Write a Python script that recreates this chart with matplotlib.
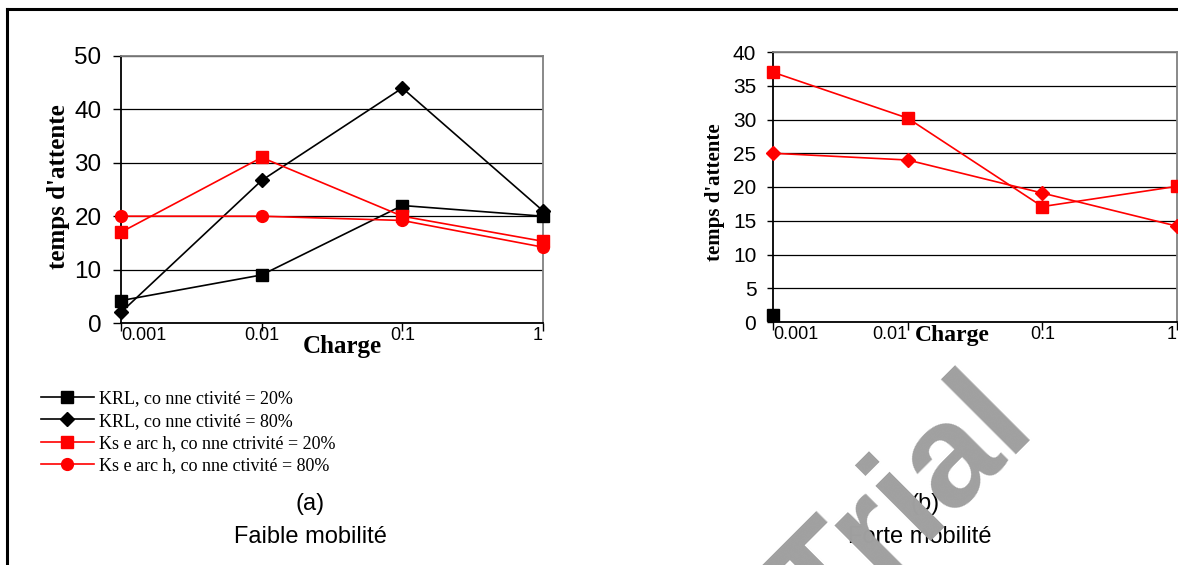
import matplotlib
matplotlib.use("Agg")
import matplotlib.pyplot as plt
from matplotlib.lines import Line2D

# ---- data ----
charges = ["0.001", "0.01", "0.1", "1"]

# (a) Faible mobilité
krl20_a = [4.2, 9.0, 22.0, 20.0]
krl80_a = [2.0, 26.7, 44.0, 21.0]
ks20_a = [17.0, 31.0, 20.0, 15.3]
ks80_a = [20.0, 20.0, 19.2, 14.2]

# (b) Forte mobilité
krl20_b = [1.0]
ks20_b = [37.0, 30.2, 17.1, 20.1]
ks80_b = [25.0, 24.0, 19.1, 14.2]

legend_labels = ["KRL, co nne ctivité = 20%", "KRL, co nne ctivité = 80%",
                 "Ks e arc h, co nne ctrivité = 20%", "Ks e arc h, co nne ctivité = 80%"]

SERIF = ["Liberation Serif", "DejaVu Serif"]
SANS = ["Liberation Sans", "DejaVu Sans"]

fig = plt.figure(figsize=(11.78, 5.65), dpi=100)
fig.patch.set_facecolor("white")

# outer frame (top and left)
fig.add_artist(Line2D([7/1178, 7/1178], [0, 1 - 9/565], transform=fig.transFigure, color="black", lw=2.2))
fig.add_artist(Line2D([7/1178, 1], [1 - 9/565, 1 - 9/565], transform=fig.transFigure, color="black", lw=2.2))


def style_axes(ax, ymax, ystep, yfs, xfs, aligns, ytick_len):
    ax.set_xlim(0, len(charges) - 1)
    ax.set_ylim(0, ymax)
    ax.set_yticks(range(0, ymax + 1, ystep))
    ax.set_xticks(range(len(charges)))
    ax.set_xticklabels(charges, fontsize=xfs, family=SANS)
    for lbl, ha in zip(ax.get_xticklabels(), aligns):
        lbl.set_ha(ha)
    for lbl in ax.get_yticklabels():
        lbl.set_family(SANS)
        lbl.set_fontsize(yfs)
    ax.tick_params(axis="y", direction="out", length=ytick_len, width=1, pad=8)
    ax.tick_params(axis="x", direction="out", length=6, width=1, pad=-3)
    ax.yaxis.grid(True, color="black", lw=0.9)
    ax.set_axisbelow(True)
    ax.spines["left"].set_color("black")
    ax.spines["bottom"].set_color("black")
    ax.spines["top"].set_color("#808080")
    ax.spines["right"].set_color("#808080")
    for s in ax.spines.values():
        s.set_linewidth(1.3)


# ---- left chart ----
axa = fig.add_axes([121/1178, 1 - 323/565, (543 - 121)/1178, (323 - 56)/565])
x = range(len(charges))
axa.plot(x, krl20_a, color="black", lw=1.2, marker="s", ms=8.5, label=legend_labels[0], clip_on=False, zorder=3)
axa.plot(x, krl80_a, color="black", lw=1.2, marker="D", ms=7, label=legend_labels[1], clip_on=False, zorder=3)
axa.plot(x, ks20_a, color="#ff0000", lw=1.2, marker="s", ms=8.5, label=legend_labels[2], clip_on=False, zorder=3)
axa.plot(x, ks80_a, color="#ff0000", lw=1.2, marker="o", ms=8.5, label=legend_labels[3], clip_on=False, zorder=3)
style_axes(axa, 50, 10, 17.5, 13, ["left", "center", "center", "right"], 6)
axa.set_ylabel("temps d'attente", family=SERIF, fontweight="bold", fontsize=18)
axa.yaxis.set_label_coords(-0.122, 0.51)
axa.set_xlabel("Charge", family=SERIF, fontweight="bold", fontsize=18)
axa.xaxis.set_label_coords(0.525, -0.045)
axa.xaxis.label.set_va("top")

# ---- right chart ----
axb = fig.add_axes([773/1178, 1 - 322/565, (1177 - 773)/1178, (322 - 52)/565])
axb.plot(range(len(krl20_b)), krl20_b, color="black", lw=1.2, marker="s", ms=8, clip_on=False, zorder=3)
axb.plot(x, ks20_b, color="#ff0000", lw=1.2, marker="s", ms=8.5, clip_on=False, zorder=3)
axb.plot(x, ks80_b, color="#ff0000", lw=1.2, marker="D", ms=7, clip_on=False, zorder=3)
style_axes(axb, 40, 5, 15, 13, ["left", "right", "center", "right"], 4)
axb.set_ylabel("temps d'attente", family=SERIF, fontweight="bold", fontsize=15)
axb.yaxis.set_label_coords(-0.12, 0.48)
axb.set_xlabel("Charge", family=SERIF, fontweight="bold", fontsize=17)
axb.xaxis.set_label_coords(0.445, -0.01)
axb.xaxis.label.set_va("top")

# ---- legend ----
handles, labels = axa.get_legend_handles_labels()
fig.legend(handles, labels, loc="upper left", bbox_to_anchor=(34/1178, 1 - 383/565),
           frameon=False, prop={"family": SERIF, "size": 13}, handlelength=2.9,
           handletextpad=0.28, labelspacing=0.3, borderaxespad=0)

# ---- captions ----
fig.text(310/1178, 1 - 504/565, "(a)", ha="center", va="center", fontsize=17, family=SANS)
fig.text(310/1178, 1 - 537/565, "Faible mobilité", ha="center", va="center", fontsize=17, family=SANS)
fig.text(925/1178, 1 - 504/565, "(b)", ha="center", va="center", fontsize=17, family=SANS)
fig.text(920/1178, 1 - 537/565, "Forte mobilité", ha="center", va="center", fontsize=17, family=SANS)

# watermark
fig.text(905/1178, 1 - 510/565, "Trial", ha="center", va="center", rotation=45,
         fontsize=105, fontweight="bold", family=SANS, color="#a0a0a0", zorder=10)

fig.savefig("out.png", dpi=100, facecolor="white")
